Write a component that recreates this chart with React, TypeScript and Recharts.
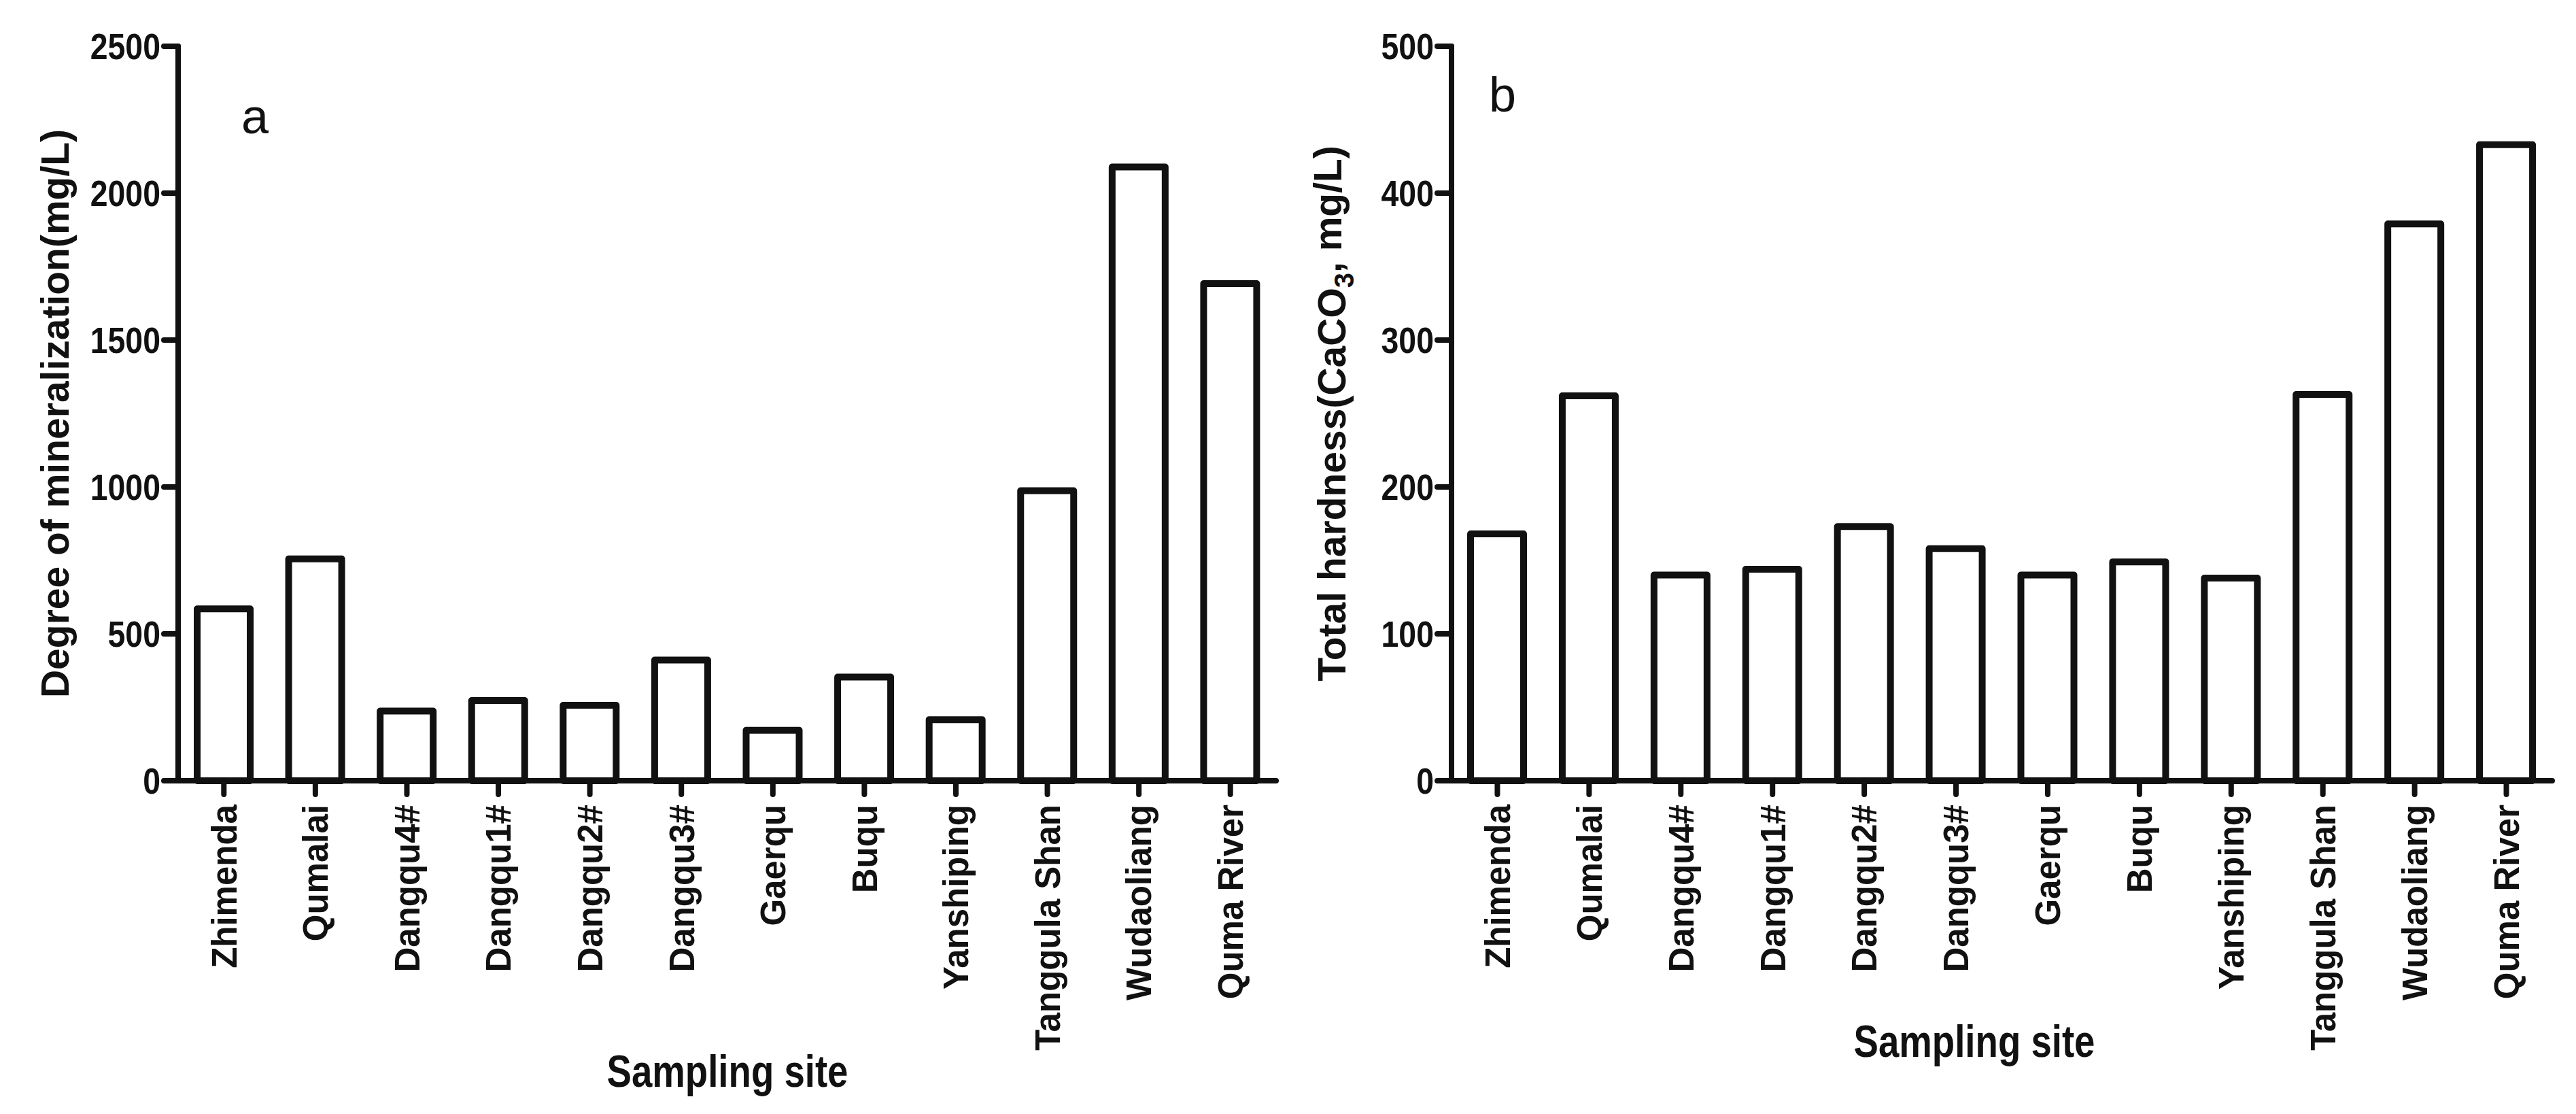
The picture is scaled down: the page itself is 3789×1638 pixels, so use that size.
import React from 'react';
import { BarChart, Bar, XAxis, YAxis, Label } from 'recharts';

const sites = [
  'Zhimenda', 'Qumalai', 'Dangqu4#', 'Dangqu1#', 'Dangqu2#', 'Dangqu3#',
  'Gaerqu', 'Buqu', 'Yanshiping', 'Tanggula Shan', 'Wudaoliang', 'Quma River',
];
// degree of mineralization (mg/L)
const mineralization = [585, 755, 237, 273, 257, 411, 172, 353, 208, 987, 2089, 1692];
// total hardness (CaCO3, mg/L)
const hardness = [168, 262, 140, 144, 173, 158, 140, 149, 138, 263, 379, 433];
const ticksA = [0, 500, 1000, 1500, 2000, 2500];
const ticksB = [0, 100, 200, 300, 400, 500];

const INK = '#111111';
const FONT = '"Liberation Sans", Arial, sans-serif';

const dataA = sites.map((site, i) => ({ site, value: mineralization[i] }));
const dataB = sites.map((site, i) => ({ site, value: hardness[i] }));

const SiteTick = (props: any) => {
  const { x, y, payload } = props;
  return (
    <text
      x={x}
      y={y}
      transform={`rotate(-90 ${x} ${y})`}
      textAnchor="end"
      dy="0.36em"
      fontFamily={FONT}
      fontWeight="bold"
      fontSize={51}
      fill={INK}
    >
      {payload.value}
    </text>
  );
};

// tick numbers in the original are a little condensed
const ValueTick = (props: any) => {
  const { x, y, payload } = props;
  return (
    <text
      transform={`translate(${x} ${y}) scale(0.86 1)`}
      dy="0.36em"
      textAnchor="end"
      fontFamily={FONT}
      fontWeight="bold"
      fontSize={54}
      fill={INK}
    >
      {payload.value}
    </text>
  );
};

type PanelProps = {
  data: { site: string; value: number }[];
  ticks: number[];
  width: number;
  yWidth: number;
  right: number;
  letter: string;
  letterX: number;
  letterY: number;
  titleX: number;
  xTitleX: number;
  xTitleY: number;
  yTitle: React.ReactNode;
};

const Panel = (p: PanelProps) => {
  const max = p.ticks[p.ticks.length - 1];
  const axisStyle = { stroke: INK, strokeWidth: 8, strokeLinecap: 'round' as const };
  return (
    <BarChart
      width={p.width}
      height={1638}
      data={p.data}
      margin={{ top: 68, right: p.right, bottom: 0, left: 0 }}
      barSize={78}
    >
      <XAxis
        dataKey="site"
        height={490}
        interval={0}
        tick={<SiteTick />}
        tickSize={20}
        tickMargin={15}
        tickLine={axisStyle}
        axisLine={axisStyle}
      >
        <Label
          content={() => (
            <text
              x={p.xTitleX}
              y={p.xTitleY}
              textAnchor="middle"
              textLength={355}
              lengthAdjust="spacingAndGlyphs"
              fontFamily={FONT}
              fontWeight="bold"
              fontSize={66}
              fill={INK}
            >
              Sampling site
            </text>
          )}
        />
      </XAxis>
      <XAxis xAxisId="top" dataKey="site" orientation="top" height={0} tick={false} tickLine={false} axisLine={axisStyle} />
      <YAxis
        type="number"
        domain={[0, max]}
        ticks={p.ticks}
        width={p.yWidth}
        tick={<ValueTick />}
        tickSize={21}
        tickMargin={5}
        tickLine={axisStyle}
        axisLine={axisStyle}
      >
        <Label
          content={() => (
            <g>
              <text
                x={p.titleX}
                y={608}
                transform={`rotate(-90 ${p.titleX} 608)`}
                textAnchor="middle"
                dy="0.36em"
                fontFamily={FONT}
                fontWeight="bold"
                fontSize={57}
                fill={INK}
              >
                {p.yTitle}
              </text>
              <text x={p.letterX} y={p.letterY} fontFamily={FONT} fontSize={72} fill={INK}>
                {p.letter}
              </text>
            </g>
          )}
        />
      </YAxis>
      <YAxis yAxisId="right" orientation="right" type="number" domain={[0, max]} width={0} tick={false} tickLine={false} axisLine={axisStyle} />
      <Bar
        dataKey="value"
        fill="#ffffff"
        stroke={INK}
        strokeWidth={10}
        strokeLinejoin="round"
        isAnimationActive={false}
      />
    </BarChart>
  );
};

export default function App() {
  return (
    <div style={{ position: 'absolute', left: 0, top: 0, width: 3789, height: 1638, background: '#fff' }}>
      <div style={{ position: 'absolute', left: 0, top: 0 }}>
        <Panel
          data={dataA}
          ticks={ticksA}
          width={1900}
          yWidth={262}
          right={23}
          letter="a"
          letterX={355}
          letterY={196}
          titleX={80}
          xTitleX={1070}
          xTitleY={1598}
          yTitle="Degree of mineralization(mg/L)"
        />
      </div>
      <div style={{ position: 'absolute', left: 1890, top: 0 }}>
        <Panel
          data={dataB}
          ticks={ticksB}
          width={1899}
          yWidth={245}
          right={35}
          letter="b"
          letterX={300}
          letterY={164}
          titleX={68}
          xTitleX={1014}
          xTitleY={1554}
          yTitle={
            <>
              <tspan>Total hardness(CaCO</tspan>
              <tspan fontSize={40} dy="0.3em">3</tspan>
              <tspan dy="-0.3em">, mg/L)</tspan>
            </>
          }
        />
      </div>
    </div>
  );
}
